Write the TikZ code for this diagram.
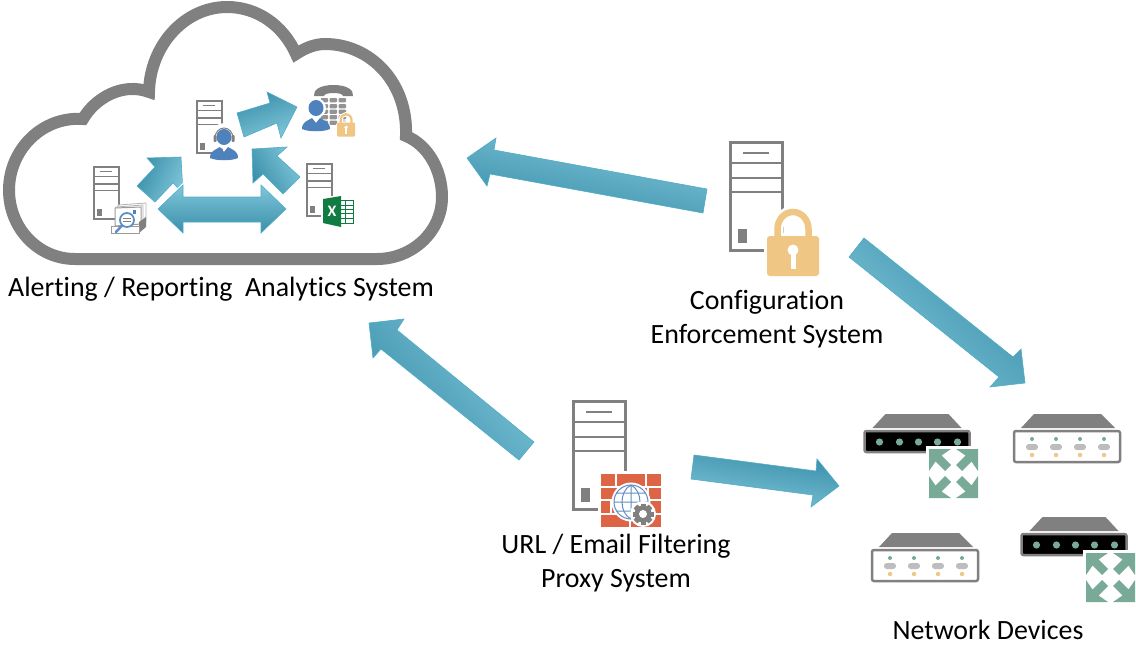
\documentclass[tikz,border=0pt]{standalone}
\usepackage{fontspec}
\setmainfont[Ligatures=CommonOff]{Carlito}
\definecolor{gr}{HTML}{808080}
\definecolor{lockc}{HTML}{EFC684}
\definecolor{blu}{HTML}{4F81BD}
\definecolor{netg}{HTML}{79AA98}
\definecolor{brick}{HTML}{DD6546}
\definecolor{xlg}{HTML}{107C41}
\definecolor{tlight}{HTML}{7FC6DA}
\definecolor{tmid}{HTML}{4FADC7}
\definecolor{tdark}{HTML}{3A8FAA}
\definecolor{ledg}{HTML}{BDBDBD}
\tikzset{
  blockarrow/.style={top color=tlight,middle color=tmid,bottom color=tdark,draw=tmid,line width=0.6pt,line join=miter},
  label text/.style={font=\fontsize{27.9}{34}\selectfont,align=center,text=black,inner sep=0pt},
}
% server tower: x, y (top left of frame centre line), scale, frame width
\newcommand{\servertower}[4]{%
  \begin{scope}[shift={(#1,#2)},scale=#3]
    \draw[gr,line width=#4pt,fill=white] (0,0) rectangle (52,108);
    \draw[gr,line width=0.75*#4pt] (0,20.5)--(52,20.5) (0,35.5)--(52,35.5) (0,49.5)--(52,49.5);
    \draw[gr,line width=0.75*#4pt] (12.5,10.5)--(38.5,10.5);
    \fill[gr] (7.5,86.5) rectangle (16.5,100.5);
  \end{scope}}
% padlock: x, y (body top left), scale
\newcommand{\padlock}[3]{%
  \begin{scope}[shift={(#1,#2)},scale=#3]
    \draw[white,line width=6pt*#3,fill=white,rounded corners=3pt] (0,0) rectangle (52,40);
    \draw[white,line width=12pt*#3] (10.5,0)--(10.5,-7) arc[start angle=180,end angle=0,radius=15.5,y radius=-17] -- (41.5,0);
    \draw[lockc,line width=6.5pt*#3] (10.5,2)--(10.5,-7) arc[start angle=180,end angle=0,radius=15.5,y radius=-17] -- (41.5,2);
    \fill[lockc,rounded corners=3pt*#3] (0,0) rectangle (52,40);
    \fill[white] (26,14) circle[radius=5.5];
    \fill[white] (23.5,14) rectangle (28.5,33);
  \end{scope}}
% person: x, y (head centre)
\newcommand{\personicon}[2]{%
  \begin{scope}[shift={(#1,#2)}]
    \fill[blu] (0,0) ellipse[x radius=7.5,y radius=8];
    \fill[blu] (-14,21) .. controls (-14,14) and (-9,13) .. (-4,10) -- (0,15) -- (4,10) .. controls (9,13) and (14,14) .. (14,21) .. controls (8,24) and (-8,24) .. (-14,21) -- cycle;
  \end{scope}}
% network expand sign: x, y (top left of the green square)
\newcommand{\expandmark}[2]{%
  \begin{scope}[shift={(#1,#2)}]
    \fill[white] (-3,-3) rectangle (49,49);
    \foreach \sx/\sy/\ox/\oy in {1/1/0/0,-1/1/49/0,1/-1/0/49,-1/-1/49/49}{
      \begin{scope}[shift={(\ox,\oy)},xscale=\sx,yscale=\sy]
        \fill[netg] (0,0)--(22,0)--(12.5,6.5)--(22,16)--(16,22)--(6.5,12.5)--(0,22)--cycle;
      \end{scope}}
  \end{scope}}
% dark device: x,y top left of body
\newcommand{\darkdevice}[2]{%
  \begin{scope}[shift={(#1,#2)}]
    \fill[gr] (21,-17)--(84,-17)--(97,-3)--(8,-3)--cycle;
    \draw[gr,line width=2.5pt,fill=black,rounded corners=2pt] (0,0) rectangle (105,21);
    \foreach \lx in {15,35,54,73,93}{\fill[netg] (\lx,11) circle[radius=3.6];}
  \end{scope}}
% light device
\newcommand{\lightdevice}[2]{%
  \begin{scope}[shift={(#1,#2)}]
    \fill[gr] (20,-17)--(87,-17)--(101,-3)--(7,-3)--cycle;
    \draw[gr,line width=2.5pt,fill=white,rounded corners=2pt] (0,0) rectangle (106,31);
    \foreach \lx in {18,42,66,90}{
      \fill[netg] (\lx,8) circle[radius=2];
      \fill[ledg,rounded corners=2.8pt] (\lx-6,13) rectangle (\lx+6,19);
      \fill[lockc] (\lx,24) circle[radius=2.2];
    }
  \end{scope}}
\begin{document}
\begin{tikzpicture}[x=1pt,y=-1pt]
\useasboundingbox (0,0) rectangle (1136,645);
% cloud
\draw[gr,line width=12pt,miter limit=10,line join=miter,fill=white] (75,259) .. controls (38,259) and (9,228) .. (9,190)
 .. controls (9,150) and (42,116) .. (83,119)
 .. controls (95,98) and (123,82) .. (149,92)
 .. controls (150,45) and (185,7) .. (227,7)
 .. controls (257,7) and (283,25) .. (296,54)
 .. controls (305,48) and (315,44) .. (325,44)
 .. controls (370,44) and (408,82) .. (406,136)
 .. controls (428,145) and (442,170) .. (442,197)
 .. controls (442,232) and (412,259) .. (377,259) -- cycle;
% inner servers
\servertower{93.8}{166.8}{0.485}{1.6}
\servertower{196.8}{100.8}{0.485}{1.6}
\servertower{306.8}{163.8}{0.485}{1.6}
% inner arrows
\shade[blockarrow,shading angle=-160] (237,113)--(270,103)--(267,92)--(297,107)--(281,138)--(277,123)--(244,137)--cycle;
\shade[blockarrow,shading angle=-115] (181,157)--(147,158)--(155,167)--(137,186)--(155,202)--(173,183)--(183,193)--cycle;
\shade[blockarrow,shading angle=-60] (252,149)--(287,147)--(277,156)--(300,177)--(283,194)--(263,174)--(253,183)--cycle;
\draw[white,line width=3pt,line join=miter] (158,209)--(183,185)--(183,197)--(261,197)--(261,185)--(286,209)--(261,233)--(261,222)--(183,222)--(183,233)--cycle;
\shade[blockarrow] (158,209)--(183,185)--(183,197)--(261,197)--(261,185)--(286,209)--(261,233)--(261,222)--(183,222)--(183,233)--cycle;
% outer arrows
\shade[blockarrow,shading angle=-12] (467,158)--(496,138)--(494,150)--(707,189)--(703,213)--(490,174)--(487,186)--cycle;
\shade[blockarrow,shading angle=135] (864,238)--(849,257)--(999,377)--(990,387)--(1025,383)--(1021,349)--(1013,357)--cycle;
\shade[blockarrow,shading angle=-50] (369,323)--(404,319)--(397,330)--(534,442)--(519,460)--(381,349)--(373,358)--cycle;
\shade[blockarrow,shading angle=170] (694,455)--(816,471)--(817,459)--(839,486)--(811,507)--(813,495)--(691,479)--cycle;
% document search icon
\draw[gr!60,line width=0.8pt,fill=white] (118,205)--(146,203)--(146,222)--(118,222)--cycle;
\draw[gr!60,line width=0.8pt,fill=white] (116,207)--(143,205)--(143,222)--(116,222)--cycle;
\draw[gr!80,line width=1pt,fill=white] (115,208)--(141,207)--(141,224)--(115,226)--cycle;
\fill[blu] (133,210) rectangle (136,214);
\fill[gr] (139,222)--(146,217)--(146,227)--(139,233)--cycle;
\fill[white] (112,226) rectangle (138,232);
\draw[gr!80,line width=1pt] (111,226) rectangle (139,233);
\draw[blu!90,line width=1.8pt,fill=white] (127,220) circle[radius=7];
\draw[gr,line width=0.6pt] (123,218.5)--(131,218.5) (123,221.5)--(131,221.5);
\draw[blu!90,line width=2.5pt,line cap=round] (122,225.5)--(116,232);
% headset person
\fill[white] (224,136) circle[radius=13];
\draw[white,line width=3pt] (210,158)--(238,158);
\personicon{224}{137}
\draw[gr,line width=1pt] (215,138) arc[start angle=180,end angle=0,radius=9,y radius=-10];
\fill[gr,rounded corners=1pt] (213.5,135) rectangle (216.5,142);
\fill[gr,rounded corners=1pt] (231.5,135) rectangle (234.5,142);
% phone
\fill[gr] (314,96) .. controls (313,90) and (320,85) .. (333.5,85) .. controls (347,85) and (354,90) .. (353,96) -- (343,96) .. controls (343,92) and (324,92) .. (324,96) -- cycle;
\foreach \ky in {98,104,109.5,115,120.5}{
  \foreach \kx in {320.5,329.5,338.5}{\fill[gr!85,rounded corners=1pt] (\kx,\ky) rectangle +(7.5,4.3);}}
\draw[white,line width=2pt,fill=white] (316,108) circle[radius=9];
\personicon{316}{108}
\padlock{337}{122.5}{0.35}
% excel
\fill[white] (321,196) rectangle (356,229);
\draw[xlg,line width=0.7pt,fill=white] (338,200) rectangle (353,223);
\draw[xlg,line width=0.5pt] (338,205)--(353,205) (338,209)--(353,209) (338,213)--(353,213) (338,218)--(353,218) (345,200)--(345,223);
\fill[xlg] (323,199)--(341,196)--(341,227)--(323,223)--cycle;
\node (xlmark) at (332,211.5) [font=\bfseries\fontsize{16}{16}\selectfont,text=white,inner sep=0pt] {X};
% enforcement server
\servertower{730.5}{142.5}{1}{3}
\padlock{767}{236}{1}
% proxy server
\servertower{573.5}{401.5}{1}{3}
\fill[white] (598,471) rectangle (664,530);
\fill[brick] (601,474) rectangle (661,527);
\draw[white,line width=1.8pt] (601,487)--(661,487) (601,500)--(661,500) (601,514)--(661,514)
  (616,474)--(616,487) (646,474)--(646,487) (648,487)--(648,500) (611,500)--(611,514) (630,514)--(630,527);
\draw[white,line width=2pt,fill=white] (631,502) circle[radius=18.5];
\draw[blu!90,line width=1pt] (631,502) circle[radius=17] (614,502)--(648,502) (617,493)--(645,493) (617,511)--(645,511);
\draw[blu!90,line width=1pt] (631,485) .. controls (619,491) and (619,513) .. (631,519) .. controls (643,513) and (643,491) .. (631,485) (631,485)--(631,519);
\fill[white] (643,514) circle[radius=13];
\foreach \ga in {0,45,...,315}{\fill[gr,rotate around={\ga:(643,514)}] (640.5,503.5) rectangle (645.5,524.5);}
\fill[gr] (643,514) circle[radius=8.5];
\fill[white] (643,514) circle[radius=4];
% network devices
\darkdevice{864.5}{431}
\expandmark{929}{449}
\lightdevice{1014}{431}
\lightdevice{872}{550}
\darkdevice{1021.5}{534}
\expandmark{1086}{553}
% labels
\node[label text] (alerting) at (221,289) {Alerting / Reporting\ \ Analytics System};
\node[label text] (config) at (767,319) {Configuration\\Enforcement System};
\node[label text] (proxy) at (616,563) {URL / Email Filtering\\Proxy System};
\node[label text] (netdev) at (988,629.5) {Network Devices};
\end{tikzpicture}
\end{document}
